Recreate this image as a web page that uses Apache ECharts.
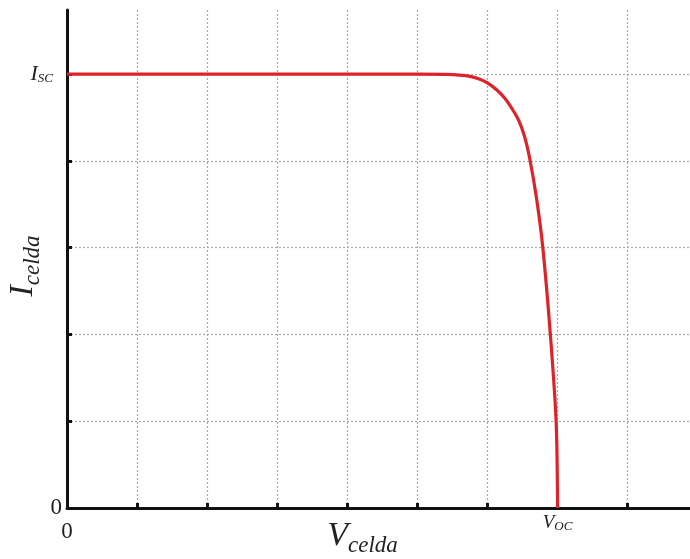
<!DOCTYPE html>
<html>
<head>
<meta charset="utf-8">
<script src="https://cdn.jsdelivr.net/npm/echarts@6/dist/echarts.min.js"></script>
<style>
  html, body { margin: 0; padding: 0; background: #fff; }
  #chart { width: 690px; height: 559px; }
</style>
</head>
<body>
<div id="chart"></div>
<script>
// I-V characteristic of a solar cell (normalised units)
const voltage = [0, 1, 2, 3, 4, 5, 5.4, 5.6, 5.75, 5.9, 6.0, 6.13, 6.25, 6.36, 6.45, 6.53, 6.6, 6.7, 6.79, 6.9, 6.98, 7.0];
const current = [5, 5, 5, 5, 5, 5, 4.997, 4.99, 4.975, 4.94, 4.9, 4.82, 4.72, 4.59, 4.46, 4.28, 4.04, 3.57, 3.0, 1.97, 0.99, 0];

const iscValue = 5;   // short-circuit current
const vocValue = 7;   // open-circuit voltage
const xMax = 8.89;
const yMax = 5.74;

const serif = '"Liberation Serif", "DejaVu Serif", serif';

const chart = echarts.init(document.getElementById('chart'), null, { renderer: 'canvas' });

const axisLineStyle = { color: '#111', width: 3 };
const gridStyle = { color: '#a8a8a8', width: 1.2, type: [2, 2] };

chart.setOption({
  animation: false,
  backgroundColor: '#fff',
  grid: { left: 67, right: 0, top: 10, bottom: 51, containLabel: false, outerBoundsMode: 'none' },
  xAxis: {
    type: 'value',
    min: 0,
    max: xMax,
    interval: 1,
    axisLine: { show: true, lineStyle: axisLineStyle },
    axisTick: { show: true, inside: true, length: 5, lineStyle: { color: '#111', width: 3 } },
    splitLine: { show: true, showMinLine: false, showMaxLine: false, lineStyle: gridStyle },
    axisLabel: {
      showMaxLabel: false,
      margin: 4,
      formatter: function (v) {
        if (v === 0) return '{n|0}';
        if (v === vocValue) return '{v|V}{s|OC}';
        return '';
      },
      rich: {
        n: { fontFamily: serif, fontSize: 23, color: '#222', padding: [8, 0, 0, 0] },
        v: { fontFamily: serif, fontStyle: 'italic', fontSize: 19, color: '#222' },
        s: { fontFamily: serif, fontStyle: 'italic', fontSize: 13, color: '#222', padding: [8, 0, 0, 0] }
      }
    },
    name: '{v|V}{s|celda}',
    nameLocation: 'middle',
    nameGap: 8,
    nameMoveOverlap: false,
    nameTextStyle: {
      padding: [0, 32, 0, 0],
      rich: {
        v: { fontFamily: serif, fontStyle: 'italic', fontSize: 34, color: '#222' },
        s: { fontFamily: serif, fontStyle: 'italic', fontSize: 23, color: '#222', padding: [18, 0, 0, 0] }
      }
    }
  },
  yAxis: {
    type: 'value',
    min: 0,
    max: yMax,
    interval: 1,
    axisLine: { show: true, lineStyle: axisLineStyle },
    axisTick: { show: true, inside: true, length: 5, lineStyle: { color: '#111', width: 3 } },
    splitLine: { show: true, showMinLine: false, showMaxLine: false, lineStyle: gridStyle },
    axisLabel: {
      showMaxLabel: false,
      margin: 5,
      formatter: function (v) {
        if (v === 0) return '{n|0}';
        if (v === iscValue) return '{i|I}{s|SC}';
        return '';
      },
      rich: {
        n: { fontFamily: serif, fontSize: 23, color: '#222', padding: [0, 0, 0, 0] },
        i: { fontFamily: serif, fontStyle: 'italic', fontSize: 22, color: '#222' },
        s: { fontFamily: serif, fontStyle: 'italic', fontSize: 13, color: '#222', padding: [8, 9, 0, 0] }
      }
    },
    name: '{i|I}{s|celda}',
    nameLocation: 'middle',
    nameGap: 23,
    nameRotate: 90,
    nameMoveOverlap: false,
    nameTextStyle: {
      padding: [0, 14, 0, 0],
      rich: {
        i: { fontFamily: serif, fontStyle: 'italic', fontSize: 34, color: '#222' },
        s: { fontFamily: serif, fontStyle: 'italic', fontSize: 23, color: '#222', padding: [18, 0, 0, 0] }
      }
    }
  },
  series: [{
    type: 'line',
    data: voltage.map((v, i) => [v, current[i]]),
    smooth: 0.3,
    showSymbol: false,
    clip: false,
    lineStyle: { color: '#dd2329', width: 3.2 },
    z: 5
  }]
});
</script>
</body>
</html>
